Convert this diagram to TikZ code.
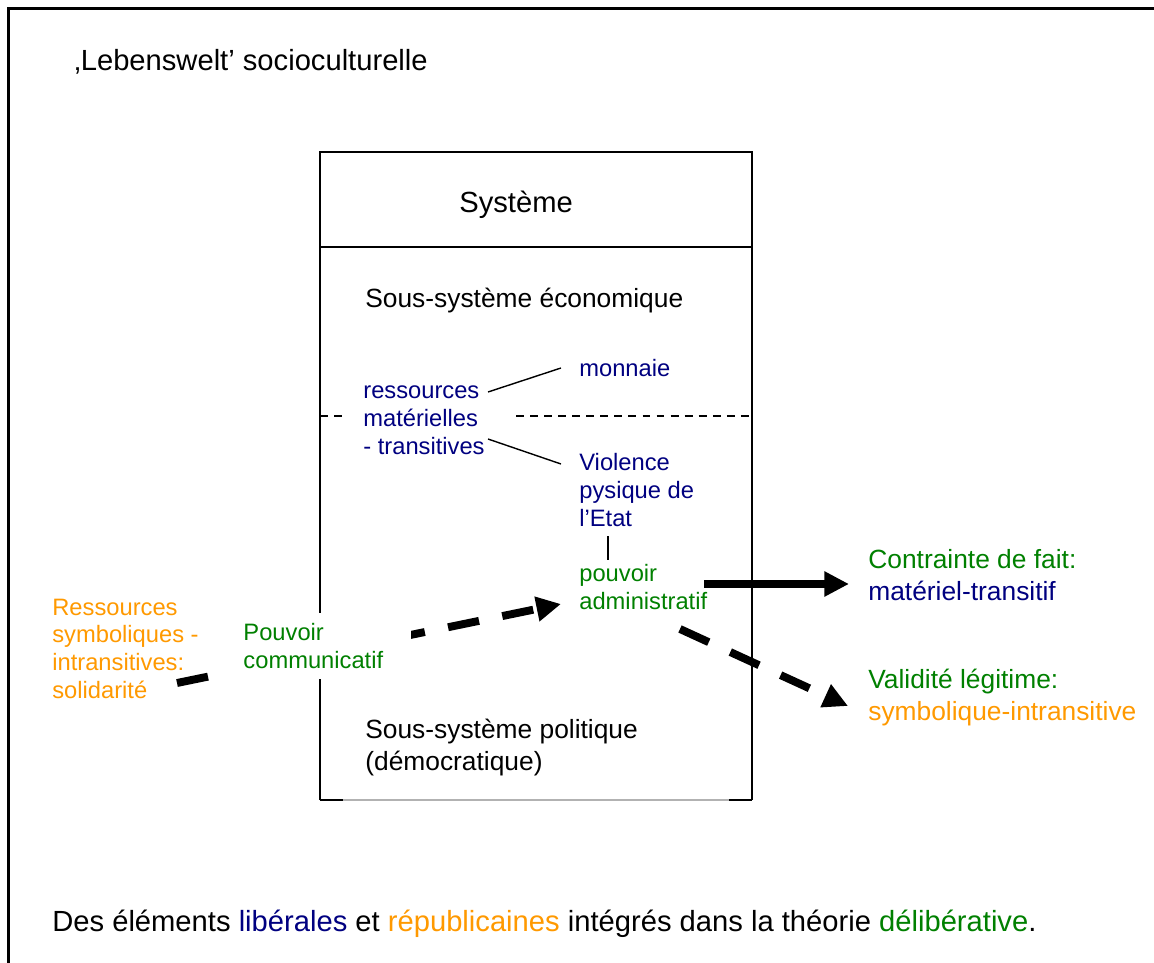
\documentclass[tikz,border=0pt]{standalone}
\usepackage{fontspec}
\setmainfont{Liberation Sans}
\usetikzlibrary{arrows.meta}

\definecolor{navy}{HTML}{000080}
\definecolor{orng}{HTML}{FF9900}
\definecolor{grn}{HTML}{008000}

\tikzset{
  txt/.style={anchor=base west, inner sep=0pt, align=left, font=\fontsize{13.5}{15.7}\selectfont},
  midtxt/.style={txt, font=\fontsize{15}{18.2}\selectfont},
  bigtxt/.style={txt, font=\fontsize{16.6}{19}\selectfont},
  box/.style={line width=1pt},
  link/.style={line width=0.8pt},
  fat/.style={line width=4.5pt, -{Triangle[length=14pt,width=13.5pt]}},
  fatdash/.style={fat, dash pattern=on 18pt off 13.5pt},
}

\begin{document}
\begin{tikzpicture}[x=0.02cm, y=-0.02cm]
    \useasboundingbox (0,0) rectangle (1154,963);
    % frame of the Lebenswelt
    \draw[line width=1.2pt] (1154,8.5) -- (8.5,8.5) -- (8.5,963);
    \node[bigtxt] (leb) at (74,71) {‚Lebenswelt’ socioculturelle};

    % the system box
    \draw[box] (320,800) -- (320,152) -- (752,152) -- (752,800);
    \draw[box] (320,247) -- (752,247);
    \draw[box] (320,800) -- (343,800);
    \draw[box] (729,800) -- (752,800);
    \draw[gray!60, line width=0.6pt] (343,800) -- (729,800);
    \draw[link, dash pattern=on 4.5pt off 3.5pt] (320,416) -- (342,416);
    \draw[link, dash pattern=on 4.5pt off 3.5pt] (516,416) -- (752,416);

    % multi-line nodes sit on the baseline of their last line
    \node[bigtxt] (sys) at (459,213) {Système};
    \node[midtxt] (eco) at (365,307) {Sous-système économique};
    \node[txt, text=navy] (ress) at (363,454) {ressources\\matérielles\\- transitives};
    \node[txt, text=navy] (monn) at (579,376) {monnaie};
    \node[txt, text=navy] (viol) at (579,526) {Violence\\pysique de\\l’Etat};
    \node[txt, text=grn] (padm) at (579,609) {pouvoir\\administratif};
    \node[midtxt] (pol) at (365,770) {Sous-système politique\\(démocratique)};

    \node[midtxt, text=grn] (contr) at (868,600) {Contrainte de fait:\\\textcolor{navy}{matériel-transitif}};
    \node[midtxt, text=grn] (valid) at (868,720) {Validité légitime:\\\textcolor{orng}{symbolique-intransitive}};
    \node[txt, text=orng] (rsym) at (52,698) {Ressources\\symboliques -\\intransitives:\\solidarité};

    % connectors
    \coordinate (r1) at (488,392);
    \coordinate (m1) at (561,368);
    \coordinate (r2) at (488,439);
    \coordinate (v1) at (561,464);
    \coordinate (v2) at (608,536);
    \coordinate (p1) at (608,560);
    \draw[link] (r1) -- (m1);
    \draw[link] (r2) -- (v1);
    \draw[link] (v2) -- (p1);

    \coordinate (s1) at (177,683);
    \coordinate (s2) at (561,604);
    \coordinate (c1) at (704,584);
    \coordinate (c2) at (849,584);
    \coordinate (l1) at (680,629);
    \coordinate (l2) at (848,706);
    \draw[fatdash] (s1) -- (s2);
    \draw[fat] (c1) -- (c2);
    \draw[fatdash] (l1) -- (l2);

    \node[txt, text=grn, fill=white, inner xsep=16pt, inner ysep=6pt] (pcom) at (215,668) {Pouvoir\\communicatif};

    \node[bigtxt] (concl) at (52,931) {Des éléments \textcolor{navy}{libérales} et \textcolor{orng}{républicaines} intégrés dans la théorie \textcolor{grn}{délibérative}.};
\end{tikzpicture}
\end{document}
